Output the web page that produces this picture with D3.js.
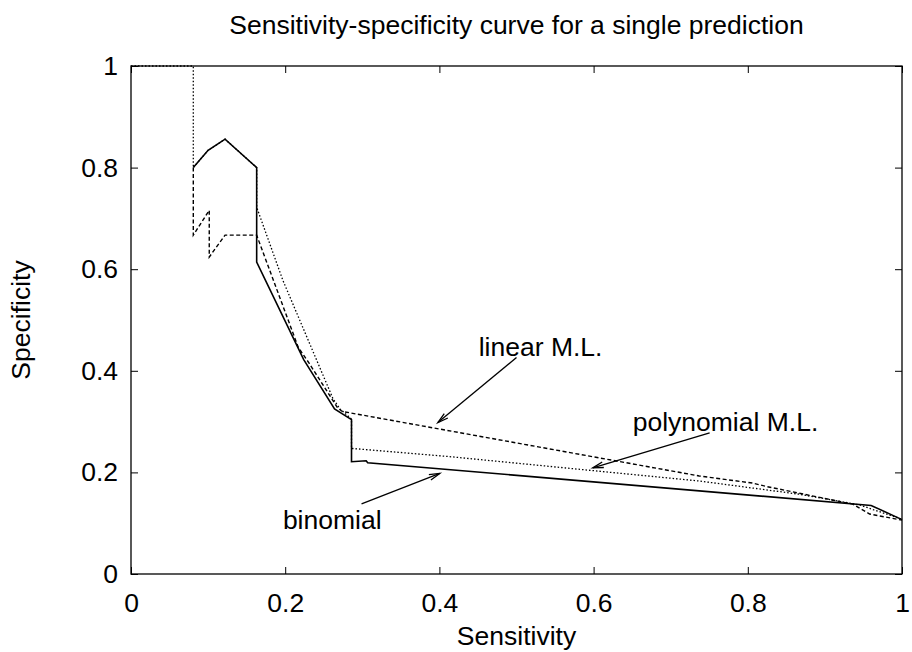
<!DOCTYPE html>
<html>
<head>
<meta charset="utf-8">
<script src="https://cdn.jsdelivr.net/npm/d3@7"></script>
<style>
  body { margin: 0; background: #fff; }
  svg text { font-family: "Liberation Sans", Arial, sans-serif; fill: #000; }
</style>
</head>
<body>
<div id="chart"></div>
<script>
// [sensitivity, specificity] pairs
const binomial = [
  [0.0808, 0.800], [0.100, 0.834], [0.122, 0.856], [0.163, 0.800], [0.163, 0.614],
  [0.224, 0.422], [0.264, 0.325], [0.286, 0.304], [0.286, 0.221], [0.305, 0.223],
  [0.307, 0.219], [0.960, 0.135], [1.0, 0.107],
]
const linearML = [
  [0.0808, 0.800], [0.0808, 0.667], [0.1015, 0.716], [0.1015, 0.624], [0.122, 0.667],
  [0.163, 0.667], [0.217, 0.446], [0.231, 0.415], [0.268, 0.327], [0.274, 0.320],
  [0.737, 0.193], [0.806, 0.179], [0.825, 0.172], [0.936, 0.1375], [0.958, 0.118],
  [1.0, 0.106],
]
const polynomialML = [
  [0, 1], [0.0808, 1], [0.0808, 0.800], [0.100, 0.834], [0.122, 0.856], [0.163, 0.800],
  [0.163, 0.722], [0.197, 0.578], [0.262, 0.345], [0.271, 0.325], [0.286, 0.305],
  [0.286, 0.247], [0.288, 0.247], [0.3746, 0.236], [0.4135, 0.231], [0.7375, 0.183],
  [0.867, 0.157], [0.945, 0.136], [0.964, 0.126], [1.0, 0.108],
]
const xTicks = [0, 0.2, 0.4, 0.6, 0.8, 1]
const yTicks = [0, 0.2, 0.4, 0.6, 0.8, 1]

const labels = [
  { text: "linear M.L.", at: [0.451, 0.430], from: [0.500, 0.426], to: [0.398, 0.298] },
  { text: "polynomial M.L.", at: [0.6507, 0.282], from: [0.7505, 0.278], to: [0.599, 0.209] },
  { text: "binomial", at: [0.197, 0.088], from: [0.299, 0.138], to: [0.4005, 0.198] },
]

const fontSize = 26.5

const dimensions = {
  width: 912,
  height: 652,
  margin: { top: 66, left: 131, bottom: 78, right: 10 },
}
dimensions.ctrWidth = dimensions.width - dimensions.margin.left - dimensions.margin.right
dimensions.ctrHeight = dimensions.height - dimensions.margin.top - dimensions.margin.bottom

const xScale = d3.scaleLinear().domain([0, 1]).range([0, dimensions.ctrWidth])
const yScale = d3.scaleLinear().domain([0, 1]).range([dimensions.ctrHeight, 0])

const svg = d3
  .select("#chart")
  .append("svg")
  .attr("width", dimensions.width)
  .attr("height", dimensions.height)

const ctr = svg
  .append("g")
  .attr("transform", `translate(${dimensions.margin.left}, ${dimensions.margin.top})`)

const fmt = d => (d === 0 || d === 1 ? d3.format("d")(d) : d3.format(".1f")(d))

// axes with inward ticks, mirrored on top/right
const styleAxis = g => {
  g.select(".domain").remove()
  g.selectAll(".tick line").attr("stroke", "#000").attr("stroke-width", 1)
  g.selectAll(".tick text").attr("font-size", fontSize).attr("font-family", "Liberation Sans, Arial, sans-serif")
}

ctr.append("g")
  .attr("transform", `translate(0, ${dimensions.ctrHeight})`)
  .call(d3.axisBottom(xScale).tickValues(xTicks).tickFormat(fmt).tickSizeInner(-7).tickSizeOuter(0).tickPadding(19))
  .call(styleAxis)

ctr.append("g")
  .call(d3.axisLeft(yScale).tickValues(yTicks).tickFormat(fmt).tickSizeInner(-7).tickSizeOuter(0).tickPadding(13))
  .call(styleAxis)

ctr.append("g")
  .call(d3.axisTop(xScale).tickValues(xTicks).tickFormat("").tickSizeInner(-7).tickSizeOuter(0))
  .call(styleAxis)

ctr.append("g")
  .attr("transform", `translate(${dimensions.ctrWidth}, 0)`)
  .call(d3.axisRight(yScale).tickValues(yTicks).tickFormat("").tickSizeInner(-7).tickSizeOuter(0))
  .call(styleAxis)

ctr.append("rect")
  .attr("width", dimensions.ctrWidth)
  .attr("height", dimensions.ctrHeight)
  .attr("fill", "none")
  .attr("stroke", "#000")
  .attr("stroke-width", 1.3)

// curves
const line = d3.line().x(d => xScale(d[0])).y(d => yScale(d[1]))

const series = [
  { pts: polynomialML, dash: "1.5,2", width: 1.3 },
  { pts: linearML, dash: "4,2.5", width: 1.4 },
  { pts: binomial, dash: null, width: 1.6 },
]

ctr.selectAll("path.curve")
  .data(series)
  .join("path")
  .classed("curve", true)
  .attr("d", d => line(d.pts))
  .attr("fill", "none")
  .attr("stroke", "#000")
  .attr("stroke-width", d => d.width)
  .attr("stroke-dasharray", d => d.dash)
  .attr("stroke-linejoin", "miter")

// annotations with arrows
labels.forEach(l => {
  const [x1, y1] = [xScale(l.from[0]), yScale(l.from[1])]
  const [x2, y2] = [xScale(l.to[0]), yScale(l.to[1])]
  ctr.append("line")
    .attr("x1", x1).attr("y1", y1).attr("x2", x2).attr("y2", y2)
    .attr("stroke", "#000").attr("stroke-width", 1.3)
  const ang = Math.atan2(y2 - y1, x2 - x1)
  const head = 11
  const spread = 0.26
  const p1 = [x2 - head * Math.cos(ang - spread), y2 - head * Math.sin(ang - spread)]
  const p2 = [x2 - head * Math.cos(ang + spread), y2 - head * Math.sin(ang + spread)]
  ctr.append("path")
    .attr("d", `M${p1[0]},${p1[1]}L${x2},${y2}L${p2[0]},${p2[1]}`)
    .attr("fill", "none")
    .attr("stroke", "#000")
    .attr("stroke-width", 1.3)
  ctr.append("text")
    .attr("x", xScale(l.at[0]))
    .attr("y", yScale(l.at[1]))
    .attr("font-size", fontSize)
    .text(l.text)
})

// titles
svg.append("text")
  .attr("x", dimensions.margin.left + dimensions.ctrWidth / 2)
  .attr("y", 34)
  .attr("text-anchor", "middle")
  .attr("font-size", fontSize)
  .text("Sensitivity-specificity curve for a single prediction")

svg.append("text")
  .attr("x", dimensions.margin.left + dimensions.ctrWidth / 2)
  .attr("y", 645)
  .attr("text-anchor", "middle")
  .attr("font-size", fontSize)
  .text("Sensitivity")

svg.append("text")
  .attr("transform", `translate(30, ${dimensions.margin.top + dimensions.ctrHeight / 2}) rotate(-90)`)
  .attr("text-anchor", "middle")
  .attr("font-size", fontSize)
  .text("Specificity")
</script>
</body>
</html>
